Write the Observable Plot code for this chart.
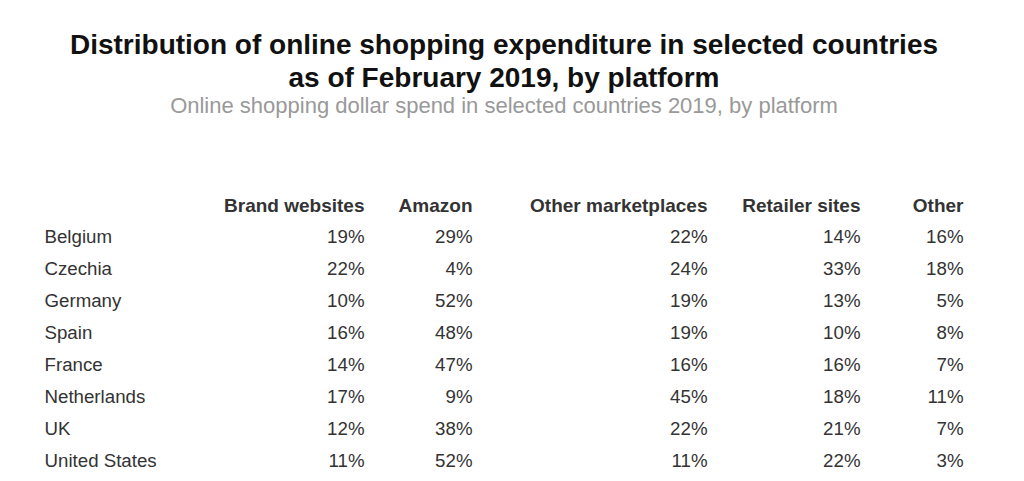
<!DOCTYPE html>
<html>
<head>
<meta charset="utf-8">
<script src="https://cdn.jsdelivr.net/npm/d3@7"></script>
<script src="https://cdn.jsdelivr.net/npm/@observablehq/plot@0.6"></script>
<style>
  html, body { margin: 0; padding: 0; background: #fff; }
  body { font-family: "Liberation Sans", Arial, Helvetica, sans-serif; width: 1024px; height: 481px; overflow: hidden; }
  #head { position: relative; width: 1024px; height: 130px; }
  #title { position: absolute; left: 0; top: 28px; width: 1008px; text-align: center; font-size: 28px; line-height: 33px; font-weight: bold; color: #111; margin: 0; }
  #subtitle { position: absolute; left: 0; top: 93px; width: 1008px; text-align: center; font-size: 22px; line-height: 25px; color: #999; margin: 0; }
  #chart svg { display: block; }
</style>
</head>
<body>
<div id="head">
  <div id="title">Distribution of online shopping expenditure in selected countries<br>as of February 2019, by platform</div>
  <div id="subtitle">Online shopping dollar spend in selected countries 2019, by platform</div>
</div>
<div id="chart"></div>
<script>
// ---- data ----
const countries = ["Belgium", "Czechia", "Germany", "Spain", "France", "Netherlands", "UK", "United States"];
const platforms = ["Brand websites", "Amazon", "Other marketplaces", "Retailer sites", "Other"];
const brandWebsites     = [19, 22, 10, 16, 14, 17, 12, 11];
const amazon            = [29, 4, 52, 48, 47, 9, 38, 52];
const otherMarketplaces = [22, 24, 19, 19, 16, 45, 22, 11];
const retailerSites     = [14, 33, 13, 10, 16, 18, 21, 22];
const other             = [16, 18, 5, 8, 7, 11, 7, 3];

// ---- layout (not data) ----
const seriesByPlatform = {
  "Brand websites": brandWebsites,
  "Amazon": amazon,
  "Other marketplaces": otherMarketplaces,
  "Retailer sites": retailerSites,
  "Other": other
};
const colRight = {
  "Brand websites": 364,
  "Amazon": 472,
  "Other marketplaces": 707,
  "Retailer sites": 860,
  "Other": 963
};
const labelLeft = 44;
const HEADER = "__header";

const cells = [];
platforms.forEach(p => {
  seriesByPlatform[p].forEach((v, i) => cells.push({platform: p, country: countries[i], value: v}));
});

const font = "'Liberation Sans', Arial, Helvetica, sans-serif";

const chart = Plot.plot({
  width: 1024,
  height: 351,
  margin: 0,
  style: {fontFamily: font, background: "#fff"},
  x: {domain: [0, 1024], range: [0, 1024], axis: null},
  y: {type: "point", domain: [HEADER, ...countries], range: [75, 331], padding: 0, axis: null},
  marks: [
    Plot.text(platforms, {
      x: d => colRight[d], y: () => HEADER, text: d => d,
      textAnchor: "end", fontSize: 19, fontWeight: "bold", fill: "#333"
    }),
    Plot.text(countries, {
      x: () => labelLeft, y: d => d, text: d => d,
      textAnchor: "start", fontSize: 18.7, fill: "#333"
    }),
    Plot.text(cells, {
      x: d => colRight[d.platform], y: "country", text: d => d.value + "%",
      textAnchor: "end", fontSize: 18.7, fill: "#333"
    })
  ]
});
document.getElementById("chart").appendChild(chart);
</script>
</body>
</html>
